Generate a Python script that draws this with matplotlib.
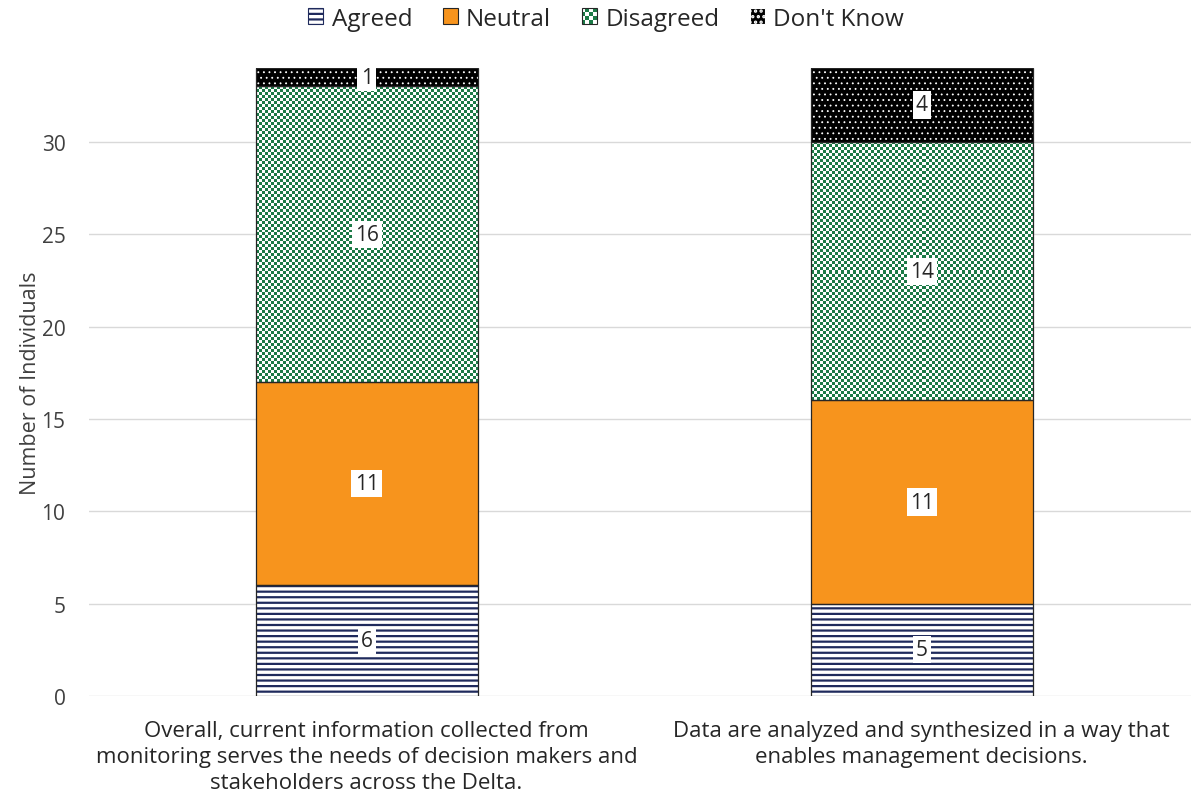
import numpy as np
import matplotlib
matplotlib.use("Agg")
import matplotlib.pyplot as plt
from matplotlib.patches import Patch, Rectangle
from matplotlib.legend_handler import HandlerBase

plt.rcParams["font.family"] = ["Open Sans", "DejaVu Sans"]
plt.rcParams["hatch.linewidth"] = 1.6

# Survey responses per statement
categories = [
    "Overall, current information collected from\nmonitoring serves the needs of decision makers and\nstakeholders across the Delta.",
    "Data are analyzed and synthesized in a way that\nenables management decisions.",
]
series_names = ["Agreed", "Neutral", "Disagreed", "Don't Know"]
agreed = [6, 5]
neutral = [11, 11]
disagreed = [16, 14]
dont_know = [1, 4]
yticks = [0, 5, 10, 15, 20, 25, 30]

NAVY = "#1f2a5c"
ORANGE = "#f7941d"
GREEN = "#1b7a46"
OUTLINE = "#262626"
TEXT = "#262626"


def set_hatch_width(patches, lw):
    for p in patches:
        if hasattr(p, "set_hatch_linewidth"):
            p.set_hatch_linewidth(lw)


fig = plt.figure(figsize=(11.91, 8.03), dpi=100)
ax = fig.add_axes([89 / 1191, 106 / 803, 1 - 89 / 1191, (734 - 106) / 803])
ax.set_xlim(-0.5, 1.485)
ax.set_ylim(0, 34)

x = np.arange(len(categories))
width = 0.4
values = [agreed, neutral, disagreed, dont_know]
bottoms = np.zeros(len(categories))

# pixel size of one data unit, used for the checker cell size
p0 = ax.transData.transform((0, 0))
p1 = ax.transData.transform((1, 1))
px_x, px_y = p1[0] - p0[0], p1[1] - p0[1]
cell_px = 3.0

for name, vals in zip(series_names, values):
    vals = np.array(vals, dtype=float)
    if name == "Agreed":
        plt.rcParams["hatch.linewidth"] = 1.6
        bars = ax.bar(x, vals, width, bottom=bottoms, facecolor="white",
                      edgecolor=NAVY, hatch="---", linewidth=0, zorder=2)
        set_hatch_width(bars, 1.6)
    elif name == "Neutral":
        bars = ax.bar(x, vals, width, bottom=bottoms, facecolor=ORANGE,
                      edgecolor=ORANGE, linewidth=0, zorder=2)
    elif name == "Disagreed":
        bars = ax.bar(x, vals, width, bottom=bottoms, facecolor="white",
                      edgecolor="none", linewidth=0, zorder=2)
        green_rgb = np.array(matplotlib.colors.to_rgb(GREEN))
        for bar in bars:
            bx, by = bar.get_x(), bar.get_y()
            bw, bh = bar.get_width(), bar.get_height()
            cols = max(1, int(round(bw * px_x / cell_px)))
            rows = max(1, int(round(bh * px_y / cell_px)))
            mask = (np.indices((rows, cols)).sum(axis=0) % 2).astype(bool)
            img = np.ones((rows, cols, 3))
            img[mask] = green_rgb
            im = ax.imshow(img, extent=(bx, bx + bw, by, by + bh),
                           interpolation="nearest", aspect="auto", zorder=2.5)
            im.set_clip_path(bar)
    else:
        plt.rcParams["hatch.linewidth"] = 0.6
        bars = ax.bar(x, vals, width, bottom=bottoms, facecolor="black",
                      edgecolor="white", hatch="...", linewidth=0, zorder=2)
        set_hatch_width(bars, 0.6)
        plt.rcParams["hatch.linewidth"] = 1.6
    # thin outline round each segment
    ax.bar(x, vals, width, bottom=bottoms, fill=False, edgecolor=OUTLINE,
           linewidth=0.9, zorder=3)
    for xi, b, v in zip(x, bottoms, vals):
        ax.text(xi, b + v / 2, f"{int(v)}", ha="center", va="center",
                fontsize=15, color=TEXT, zorder=5,
                bbox=dict(facecolor="white", edgecolor="none", pad=2.2))
    bottoms = bottoms + vals

ax.set_aspect("auto")
ax.set_xlim(-0.5, 1.485)
ax.set_ylim(0, 34)

ax.set_yticks(yticks)
ax.set_yticklabels([str(t) for t in yticks], fontsize=15, color="#404040")
ax.set_xticks(x)
ax.set_xticklabels(categories, fontsize=16, color=TEXT, linespacing=1.32)
ax.tick_params(axis="both", length=0)
ax.tick_params(axis="x", pad=17)
ax.tick_params(axis="y", pad=17)
ax.grid(axis="y", color="#d9d9d9", linewidth=1)
ax.set_axisbelow(True)
for side in ["top", "right", "left", "bottom"]:
    ax.spines[side].set_visible(False)
ax.set_ylabel("Number of Individuals", fontsize=15.5, color="#404040")
ax.yaxis.set_label_coords(-0.044, 0.5)


class CheckerHandler(HandlerBase):
    def create_artists(self, legend, orig_handle, xdescent, ydescent,
                       width, height, fontsize, trans):
        n = 4
        cw, ch = width / n, height / n
        arts = [Rectangle((-xdescent, -ydescent), width, height,
                          facecolor="white", edgecolor="none", transform=trans)]
        for i in range(n):
            for j in range(n):
                if (i + j) % 2 == 0:
                    arts.append(Rectangle((-xdescent + i * cw, -ydescent + j * ch),
                                          cw, ch, facecolor=GREEN,
                                          edgecolor="none", transform=trans))
        arts.append(Rectangle((-xdescent, -ydescent), width, height,
                              fill=False, edgecolor=OUTLINE, linewidth=0.8,
                              transform=trans))
        return arts


class CheckerKey:
    pass


plt.rcParams["hatch.linewidth"] = 1.6
key_agreed = Patch(facecolor="white", edgecolor=NAVY, hatch="---", linewidth=0.8)
key_neutral = Patch(facecolor=ORANGE, edgecolor=OUTLINE, linewidth=0.8)
plt.rcParams["hatch.linewidth"] = 0.6
key_dk = Patch(facecolor="black", edgecolor="white", hatch="...", linewidth=0.8)
set_hatch_width([key_dk], 0.6)
plt.rcParams["hatch.linewidth"] = 1.6

handles = [key_agreed, key_neutral, CheckerKey(), key_dk]
leg = fig.legend(handles, series_names, loc="center",
                 bbox_to_anchor=(606 / 1191, 1 - 19.5 / 803),
                 ncol=4, frameon=False, fontsize=17.5, handlelength=0.62,
                 handleheight=0.62, handletextpad=0.35, columnspacing=1.25,
                 handler_map={CheckerKey: CheckerHandler()}, labelcolor=TEXT)

fig.savefig("out.png", dpi=100)
